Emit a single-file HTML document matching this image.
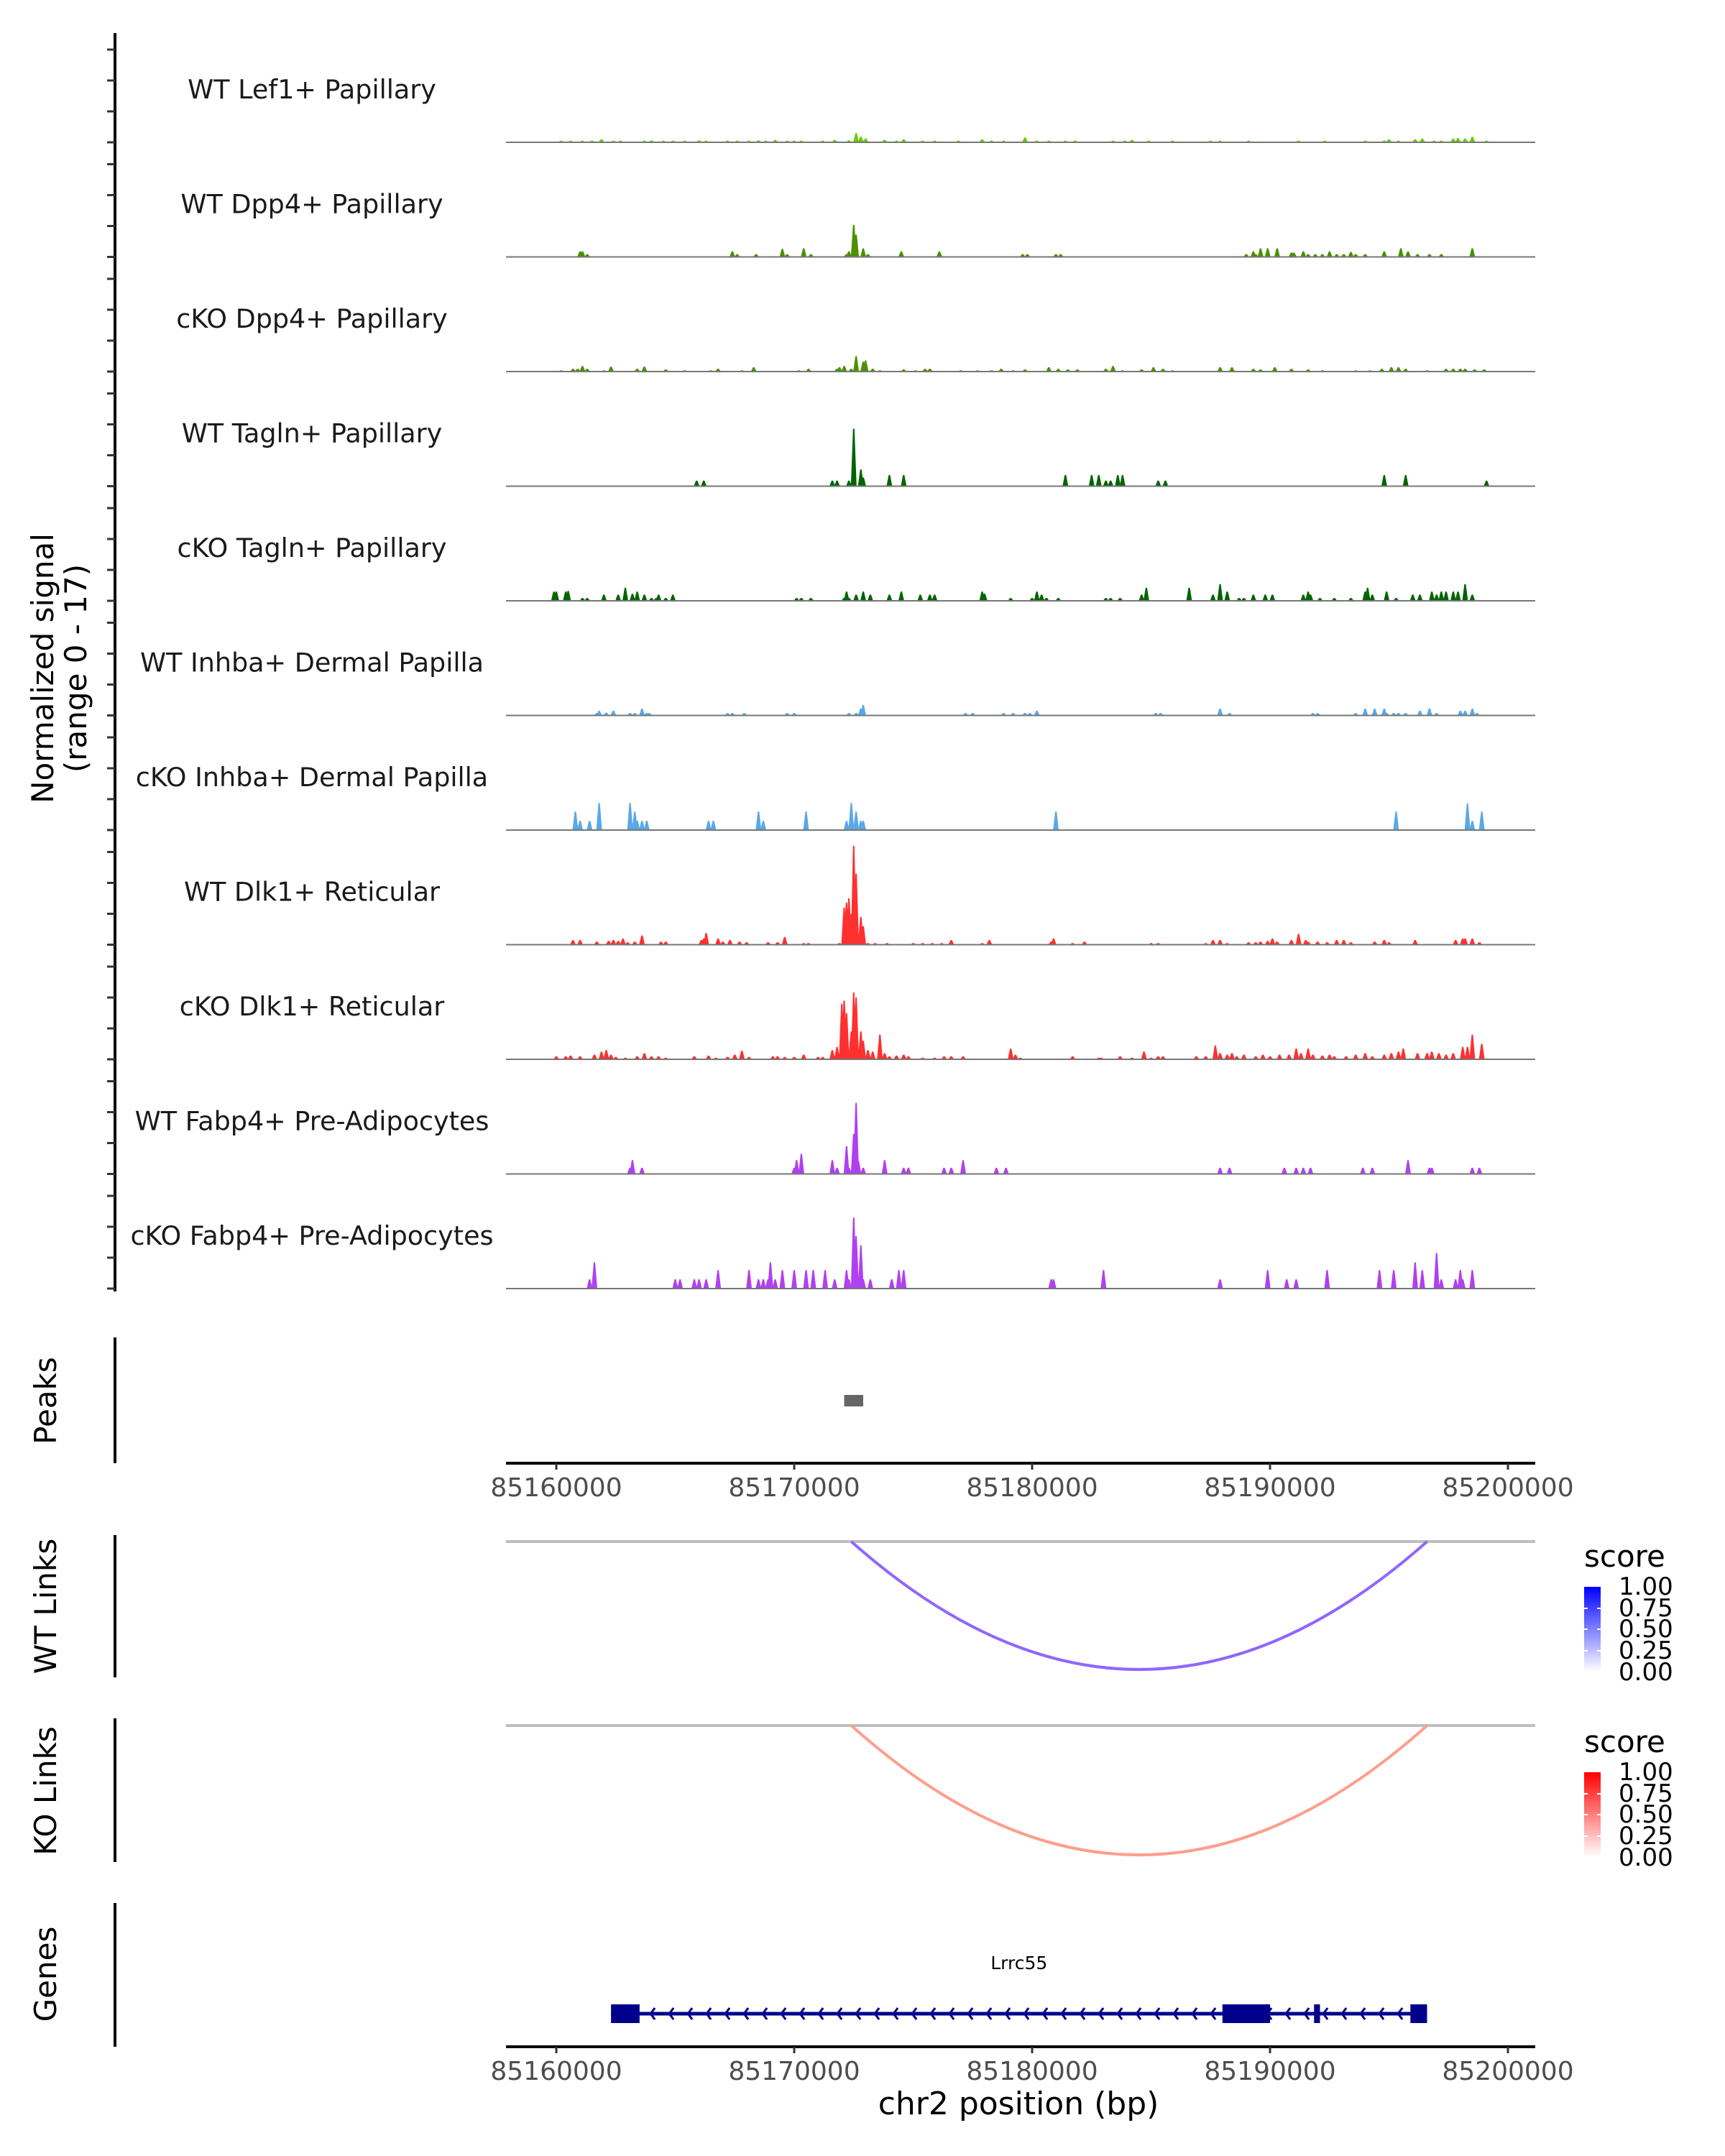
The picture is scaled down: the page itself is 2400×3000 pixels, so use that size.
<!DOCTYPE html>
<html><head><meta charset="utf-8"><style>
html,body{margin:0;padding:0;background:#fff;}
svg{display:block;font-family:"DejaVu Sans","Liberation Sans",sans-serif;}
</style></head><body>
<svg id="fig" width="2400" height="3000" viewBox="0 0 2400 3000" xmlns="http://www.w3.org/2000/svg">
<rect x="0" y="0" width="2400" height="3000" fill="#fff"/>
<text transform="translate(82,930) rotate(-90)" text-anchor="middle" font-size="42" fill="#000"><tspan x="0" dy="-8">Normalized signal</tspan><tspan x="0" dy="46">(range 0 - 17)</tspan></text>
<text transform="translate(78,1949) rotate(-90)" text-anchor="middle" font-size="42">Peaks</text>
<text transform="translate(78,2235) rotate(-90)" text-anchor="middle" font-size="42">WT Links</text>
<text transform="translate(78,2492) rotate(-90)" text-anchor="middle" font-size="42">KO Links</text>
<text transform="translate(78,2747) rotate(-90)" text-anchor="middle" font-size="42">Genes</text>
<line x1="160" y1="46" x2="160" y2="1797" stroke="#000" stroke-width="4"/>
<line x1="160" y1="1861" x2="160" y2="2036" stroke="#000" stroke-width="4"/>
<line x1="160" y1="2136" x2="160" y2="2334" stroke="#000" stroke-width="4"/>
<line x1="160" y1="2391" x2="160" y2="2591" stroke="#000" stroke-width="4"/>
<line x1="160" y1="2648" x2="160" y2="2848" stroke="#000" stroke-width="4"/>
<g id="tracks"></g>
<g id="bottom"></g>
<defs>
<linearGradient id="gblue" x1="0" y1="0" x2="0" y2="1"><stop offset="0" stop-color="#0000ff"/><stop offset="1" stop-color="#ffffff"/></linearGradient>
<linearGradient id="gred" x1="0" y1="0" x2="0" y2="1"><stop offset="0" stop-color="#ff0000"/><stop offset="1" stop-color="#ffffff"/></linearGradient>
</defs>
<g>
<text x="2204" y="2180" font-size="42">score</text>
<rect x="2204" y="2208" width="23" height="118" fill="url(#gblue)"/>
<g stroke="#fff" stroke-width="2"><line x1="2204" y1="2238" x2="2209" y2="2238"/><line x1="2222" y1="2238" x2="2227" y2="2238"/><line x1="2204" y1="2267" x2="2209" y2="2267"/><line x1="2222" y1="2267" x2="2227" y2="2267"/><line x1="2204" y1="2297" x2="2209" y2="2297"/><line x1="2222" y1="2297" x2="2227" y2="2297"/></g>
<g font-size="34" dominant-baseline="central"><text x="2252" y="2208">1.00</text><text x="2252" y="2238">0.75</text><text x="2252" y="2267">0.50</text><text x="2252" y="2297">0.25</text><text x="2252" y="2327">0.00</text></g>
</g>
<g>
<text x="2204" y="2438" font-size="42">score</text>
<rect x="2204" y="2466" width="23" height="118" fill="url(#gred)"/>
<g stroke="#fff" stroke-width="2"><line x1="2204" y1="2496" x2="2209" y2="2496"/><line x1="2222" y1="2496" x2="2227" y2="2496"/><line x1="2204" y1="2525" x2="2209" y2="2525"/><line x1="2222" y1="2525" x2="2227" y2="2525"/><line x1="2204" y1="2555" x2="2209" y2="2555"/><line x1="2222" y1="2555" x2="2227" y2="2555"/></g>
<g font-size="34" dominant-baseline="central"><text x="2252" y="2466">1.00</text><text x="2252" y="2496">0.75</text><text x="2252" y="2525">0.50</text><text x="2252" y="2555">0.25</text><text x="2252" y="2585">0.00</text></g>
</g>
<text x="1417" y="2942" text-anchor="middle" font-size="44">chr2 position (bp)</text>
</svg>
<script>
// positions in kb offset from 85160000, values in normalized signal units
const trackNames=["WT Lef1+ Papillary","WT Dpp4+ Papillary","cKO Dpp4+ Papillary","WT Tagln+ Papillary","cKO Tagln+ Papillary","WT Inhba+ Dermal Papilla","cKO Inhba+ Dermal Papilla","WT Dlk1+ Reticular","cKO Dlk1+ Reticular","WT Fabp4+ Pre-Adipocytes","cKO Fabp4+ Pre-Adipocytes"];
const trackColors=["#66cc00","#4a9000","#4a9000","#006400","#006400","#5aa8e8","#5aa8e8","#ff3030","#ff3030","#b040f0","#b040f0"];
const lef1Pos=[0.2,0.6,1.1,1.5,1.9,2.4,2.7,3.7,4.0,4.5,4.9,5.4,6.0,6.3,7.2,7.6,8.1,8.5,8.8,9.2,9.7,10.0,10.3,11.2,11.7,12.3,12.6,12.8,13.0,13.8,14.3,14.6,15.4,15.9,16.9,17.9,18.3,18.8,19.7,20.2,20.7,21.4,21.8,23.4,23.9,24.2,24.9,25.9,27.5,27.9,29.1,31.2,32.3,34.0,34.8,35.0,35.4,36.1,36.4,36.9,37.2,37.7,37.9,38.2,38.5,39.1];
const lef1Val=[0.25,0.25,0.25,0.25,0.5,0.25,0.25,0.25,0.3,0.25,0.25,0.25,0.3,0.25,0.25,0.25,0.25,0.3,0.25,0.4,0.25,0.25,0.25,0.25,0.4,0.3,1.5,0.9,0.6,0.4,0.25,0.5,0.25,0.25,0.25,0.5,0.25,0.25,0.8,0.25,0.25,0.25,0.25,0.25,0.25,0.4,0.25,0.25,0.25,0.25,0.25,0.25,0.25,0.25,0.25,0.5,0.25,0.5,0.6,0.25,0.25,0.6,0.7,0.6,0.9,0.25];
const dpp4WtPos=[1.0,1.1,1.3,7.4,7.6,8.4,9.5,9.7,10.4,10.7,12.2,12.3,12.5,12.6,12.9,13.1,14.5,16.1,19.6,19.8,21.0,21.2,29.0,29.3,29.4,29.6,29.9,30.3,30.9,31.0,31.4,31.6,31.9,32.2,32.5,32.8,33.1,33.4,33.6,34.0,34.8,35.5,35.8,36.2,36.7,37.2,38.5];
const dpp4WtVal=[0.9,0.9,0.45,0.9,0.45,0.45,1.3,0.45,1.4,0.45,0.45,0.9,5.2,3.6,1.4,0.45,0.9,0.9,0.45,0.45,0.45,0.45,0.45,0.9,0.45,1.4,1.4,1.4,0.7,0.7,0.9,0.45,0.45,0.45,0.9,0.45,0.45,0.8,0.45,0.45,0.9,1.4,0.9,0.45,0.45,0.45,1.4];
const dpp4KoPos=[0.2,0.7,0.9,1.1,1.3,2.0,2.3,3.4,3.7,4.6,5.4,6.5,6.8,7.8,8.3,10.2,10.6,11.8,11.9,12.1,12.4,12.6,12.9,13.0,13.3,13.6,14.6,15.1,15.5,15.7,17.0,17.7,18.3,18.7,19.2,19.7,20.7,21.1,21.5,21.9,23.1,23.4,23.8,24.6,25.1,25.5,25.9,27.9,28.4,29.3,29.6,30.2,30.9,31.6,32.2,33.6,34.2,34.7,35.1,35.4,35.7,36.6,37.4,37.7,38.0,38.2,38.6,39.0];
const dpp4KoVal=[0.2,0.45,0.45,0.9,0.45,0.2,0.8,0.45,0.8,0.35,0.2,0.2,0.45,0.2,0.7,0.2,0.45,0.45,0.7,0.9,0.45,2.5,1.6,1.8,0.45,0.2,0.35,0.2,0.45,0.45,0.2,0.2,0.2,0.45,0.2,0.35,0.7,0.45,0.35,0.35,0.45,0.9,0.2,0.35,0.7,0.45,0.2,0.7,0.7,0.45,0.35,0.7,0.45,0.35,0.2,0.2,0.2,0.45,0.7,0.7,0.45,0.2,0.45,0.45,0.45,0.45,0.35,0.35];
const taglnWtPos=[5.9,6.2,11.6,11.8,12.3,12.5,12.8,12.9,14.0,14.6,21.4,22.5,22.8,23.1,23.3,23.6,23.8,25.3,25.6,34.8,35.7,39.1];
const taglnWtVal=[0.9,0.9,0.9,0.9,0.9,9.3,2.7,1.4,1.8,1.8,1.8,1.8,1.8,0.9,0.9,1.8,1.8,0.9,0.9,1.8,1.8,0.9];
const taglnKoPos=[-0.1,0.0,0.4,0.5,1.1,1.3,2.0,2.6,2.9,3.2,3.4,3.7,4.0,4.2,4.3,4.6,4.9,10.1,10.3,10.7,12.1,12.2,12.3,12.6,12.9,13.2,14.0,14.5,15.3,15.7,15.9,17.9,18.0,19.1,20.0,20.2,20.4,20.6,21.1,23.1,23.3,23.7,24.6,24.8,26.6,27.6,27.9,28.2,28.7,28.9,29.3,29.8,30.1,31.4,31.6,31.7,32.1,32.7,33.4,34.0,34.1,34.3,34.9,35.3,36.0,36.3,36.8,37.0,37.2,37.4,37.7,37.9,38.2,38.5];
const taglnKoVal=[1.5,1.5,1.5,1.6,0.45,0.45,1.0,1.0,2.1,1.15,1.5,1.0,0.45,0.45,1.0,0.45,1.0,0.45,0.45,0.45,0.45,1.5,0.45,1.0,1.5,1.0,1.0,1.5,1.0,1.0,1.0,1.5,1.15,0.45,0.45,1.5,1.0,0.45,0.45,0.45,0.45,0.45,1.0,2.1,2.1,1.0,2.7,1.5,0.45,0.45,1.0,1.0,1.0,1.0,1.5,1.0,0.45,0.45,0.45,1.5,2.1,1.0,1.5,0.45,1.0,1.0,1.5,1.0,1.5,1.5,1.5,1.5,2.7,1.0];
const inhbaWtPos=[1.7,1.8,2.1,2.4,3.1,3.3,3.6,3.8,3.9,7.2,7.4,7.9,9.7,10.0,12.3,12.6,12.8,12.9,17.2,17.5,18.8,19.2,19.7,19.9,20.2,25.2,25.4,27.9,28.3,31.8,32.0,33.6,34.0,34.4,34.8,34.9,35.2,35.4,35.7,36.3,36.7,37.0,38.0,38.2,38.5,38.7];
const inhbaWtVal=[0.4,0.75,0.45,0.75,0.4,0.4,1.1,0.4,0.4,0.4,0.4,0.4,0.4,0.4,0.4,0.4,1.1,1.7,0.4,0.4,0.4,0.4,0.4,0.4,0.75,0.4,0.4,1.1,0.4,0.4,0.4,0.4,1.1,1.1,1.1,0.4,0.4,0.4,0.4,0.75,1.1,0.4,0.75,0.75,1.1,0.4];
const inhbaKoPos=[0.8,1.0,1.4,1.8,3.1,3.3,3.4,3.6,3.8,6.4,6.6,8.5,8.7,10.5,12.2,12.4,12.6,12.8,12.9,21.0,35.3,38.3,38.5,38.9];
const inhbaKoVal=[3.0,1.5,1.5,4.4,4.4,3.0,1.5,1.5,1.5,1.5,1.5,3.0,1.5,3.0,1.5,4.4,3.0,1.5,1.5,3.0,3.0,4.3,1.5,3.0];
const dlk1WtPos=[0.7,1.0,1.7,2.2,2.4,2.6,2.8,3.0,3.3,3.6,4.4,4.6,6.1,6.2,6.3,6.8,7.0,7.3,7.7,8.0,8.9,9.3,9.6,10.4,10.6,11.9,12.1,12.2,12.3,12.4,12.5,12.6,12.8,12.9,13.1,13.4,13.9,15.0,15.4,15.8,16.2,16.6,17.9,18.2,20.8,20.9,21.7,22.2,25.0,25.3,27.3,27.6,27.9,28.2,29.1,29.4,29.6,29.9,30.1,30.3,30.9,31.2,31.5,31.6,32.0,32.4,32.8,33.1,33.4,34.4,34.8,35.0,36.1,37.8,38.1,38.2,38.5,38.8];
const dlk1WtVal=[0.75,0.75,0.5,0.6,0.75,0.6,1.0,0.4,0.5,1.5,0.5,0.5,0.75,1.0,1.9,1.0,0.5,0.75,0.5,0.4,0.4,0.4,1.25,0.25,0.25,0.25,6.0,6.8,7.5,5.0,16,11.5,4.5,3.0,0.25,0.25,0.25,0.25,0.25,0.25,0.25,0.75,0.25,0.75,0.5,1.0,0.25,0.5,0.25,0.25,0.25,0.75,0.75,0.25,0.4,0.4,0.5,0.6,1.0,0.5,0.75,1.75,0.75,0.5,0.5,0.4,0.75,0.75,0.4,0.5,0.75,0.4,0.75,0.75,1.0,1.0,1.0,0.4];
const dlk1KoPos=[0.0,0.4,0.6,1.0,1.6,1.9,2.1,2.3,2.5,2.9,3.4,3.7,4.0,4.3,4.6,5.8,6.4,6.7,7.2,7.5,7.8,8.1,9.1,9.3,9.6,10.0,10.4,11.0,11.2,11.6,11.8,12.0,12.1,12.2,12.4,12.5,12.6,12.8,12.9,13.1,13.3,13.6,13.8,14.0,14.3,14.6,14.8,15.4,15.9,16.3,16.6,17.1,19.1,19.3,19.5,21.7,22.8,22.9,23.7,24.2,24.7,25.0,25.3,25.5,26.9,27.3,27.7,27.9,28.2,28.4,28.6,28.9,29.4,29.7,30.0,30.4,30.8,31.1,31.3,31.6,31.8,32.2,32.5,32.7,33.2,33.6,34.0,34.3,34.8,35.1,35.4,35.6,36.2,36.6,36.8,37.1,37.4,37.7,38.1,38.3,38.5,38.9];
const dlk1KoVal=[0.5,0.5,0.6,0.5,0.75,1.25,1.5,0.75,0.4,0.25,0.5,1.0,0.5,0.5,0.25,0.5,0.6,0.25,0.4,0.75,1.4,0.4,0.5,0.5,0.4,0.4,0.75,0.4,0.4,1.5,2.0,9.0,9.5,7.5,4.5,10.8,10.0,4.5,3.0,1.5,1.25,4.0,1.0,0.5,0.6,0.75,0.5,0.25,0.25,0.5,0.5,0.5,1.75,0.75,0.25,0.5,0.25,0.25,0.5,0.25,1.25,0.25,0.5,0.5,0.5,0.5,2.25,1.0,0.75,1.0,0.5,0.75,0.5,0.75,0.5,0.75,0.75,1.75,1.0,1.75,0.75,0.6,0.75,0.5,0.5,0.75,1.0,0.5,0.75,1.0,1.25,1.75,1.0,1.0,1.25,1.0,0.75,1.0,2.0,2.0,4.0,2.5];
const fabp4WtPos=[3.1,3.2,3.6,10.0,10.1,10.3,11.6,11.8,12.2,12.3,12.5,12.6,12.7,12.9,13.8,14.6,14.8,16.3,16.6,17.1,18.5,18.9,27.9,28.3,30.6,31.1,31.4,31.7,33.9,34.3,35.8,36.7,36.8,38.5,38.8];
const fabp4WtVal=[1.0,2.25,1.0,1.0,2.25,3.25,2.25,1.0,4.5,1.0,6.5,11.5,2.0,1.0,2.25,1.0,1.0,1.0,1.0,2.25,1.0,1.0,1.0,1.0,1.0,1.0,1.0,1.0,1.0,1.0,2.25,1.0,1.0,1.0,1.0];
const fabp4KoPos=[1.4,1.6,5.0,5.2,5.8,6.0,6.3,6.8,8.1,8.5,8.7,8.9,9.0,9.2,9.5,10.0,10.5,10.8,11.3,11.7,12.2,12.3,12.5,12.6,12.8,12.9,13.2,14.1,14.4,14.6,20.8,20.9,23.0,27.9,29.9,30.7,31.1,32.4,34.6,35.2,36.1,36.4,37.0,37.2,37.8,38.0,38.1,38.5];
const fabp4KoVal=[1.5,4.25,1.5,1.5,1.5,1.5,1.5,3.0,3.0,1.5,1.5,1.5,4.25,1.5,3.0,3.0,3.0,3.0,3.0,1.5,3.0,1.5,11.5,8.5,7.0,1.5,1.5,1.5,3.0,3.0,1.5,1.5,3.0,1.5,3.0,1.5,1.5,3.0,3.0,3.0,4.25,3.0,5.75,1.5,1.5,3.0,1.5,3.0];
const trackPos=[lef1Pos,dpp4WtPos,dpp4KoPos,taglnWtPos,taglnKoPos,inhbaWtPos,inhbaKoPos,dlk1WtPos,dlk1KoPos,fabp4WtPos,fabp4KoPos];
const trackVal=[lef1Val,dpp4WtVal,dpp4KoVal,taglnWtVal,taglnKoVal,inhbaWtVal,inhbaKoVal,dlk1WtVal,dlk1KoVal,fabp4WtVal,fabp4KoVal];
const peakStartKb=[12.1];
const peakEndKb=[12.9];
const linkStartKb=[12.4];
const linkEndKb=[36.6];
const wtLinkScore=[0.6];
const koLinkScore=[0.45];
const exonStartKb=[2.3,28.0,31.85,35.9];
const exonEndKb=[3.5,30.0,32.1,36.6];
const geneStartKb=[2.3];
const geneEndKb=[36.6];
const geneNames=["Lrrc55"];
const xTickBp=[85160000,85170000,85180000,85190000,85200000];
const signalTicks=[0,5,10,15];

const NS="http://www.w3.org/2000/svg";
const X0=774, PXKB=33.1, LEFT=704, RIGHT=2136;
function xKb(k){return X0+k*PXKB;}
function xBp(b){return xKb((b-85160000)/1000);}
function base(i){return 198+i*159.5;}
function yVal(i,v){return base(i)-v*8.6;}
function mk(tag,attrs,parent){const e=document.createElementNS(NS,tag);for(const k in attrs)e.setAttribute(k,attrs[k]);parent.appendChild(e);return e;}
const g=document.getElementById('tracks');
for(let i=0;i<trackNames.length;i++){
  const tg=mk('g',{},g);
  
  
  for(const t of signalTicks){
    const tl=mk('line',{x1:149,x2:160,y1:yVal(i,t),y2:yVal(i,t),stroke:'#333','stroke-width':3},tg);
    
    
  }
  const lab=mk('text',{x:434,y:base(i)-61,'text-anchor':'middle','font-size':36.5,fill:'#1a1a1a'},tg);
  lab.textContent=trackNames[i];
  
  
  let d='';
  const P=trackPos[i],V=trackVal[i],b=base(i);
  for(let j=0;j<P.length;j++){
    const x=xKb(P[j]),y=yVal(i,V[j]);
    d+='M'+(x-4).toFixed(1)+','+b+'L'+(x-1).toFixed(1)+','+y.toFixed(1)+'L'+(x+1).toFixed(1)+','+y.toFixed(1)+'L'+(x+4).toFixed(1)+','+b+'Z';
  }
  const p=mk('path',{d:d,fill:trackColors[i]},tg);
  
  
  const bl=mk('line',{x1:LEFT,x2:RIGHT,y1:b,y2:b,stroke:'#777','stroke-width':2},tg);
  
  
}
const bg=document.getElementById('bottom');
for(let j=0;j<peakStartKb.length;j++){
  const r=mk('rect',{x:xKb(peakStartKb[j]),y:1941,width:xKb(peakEndKb[j])-xKb(peakStartKb[j]),height:16,fill:'#666'},bg);
  
  
}
function axis(y){
  const ax=mk('g',{},bg);
  
  
  mk('line',{x1:LEFT,x2:RIGHT,y1:y,y2:y,stroke:'#000','stroke-width':4},ax);
  for(const t of xTickBp){
    const x=xBp(t);
    mk('line',{x1:x,x2:x,y1:y,y2:y+9,stroke:'#333','stroke-width':3},ax);
    const tx=mk('text',{x:x,y:y+46,'text-anchor':'middle','font-size':36,fill:'#4d4d4d'},ax);
    tx.textContent=String(t);
    
    
  }
}
axis(2036);axis(2848);
function scoreColor(s,r,gg,b){const m=v=>Math.round(255+(v-255)*s);return 'rgb('+m(r)+','+m(gg)+','+m(b)+')';}
function links(y,depth,scores,rgb,name){
  const lg=mk('g',{},bg);
  
  
  mk('line',{x1:LEFT,x2:RIGHT,y1:y,y2:y,stroke:'#bebebe','stroke-width':4},lg);
  for(let j=0;j<linkStartKb.length;j++){
    const a=xKb(linkStartKb[j]),c=xKb(linkEndKb[j]),m=(a+c)/2;
    const p=mk('path',{d:'M'+a+','+y+' Q'+m+','+(y+2*depth)+' '+c+','+y,fill:'none',stroke:scoreColor(scores[j],rgb[0],rgb[1],rgb[2]),'stroke-width':4},lg);
    
    
  }
}
links(2145,178,wtLinkScore,[70,0,255],'wt-links-track');
links(2401,180,koLinkScore,[255,40,0],'ko-links-track');
const gn=mk('g',{},bg);


for(let j=0;j<geneStartKb.length;j++){
  const a=xKb(geneStartKb[j]),c=xKb(geneEndKb[j]);
  mk('line',{x1:a,x2:c,y1:2802,y2:2802,stroke:'#00008b','stroke-width':5},gn);
  let ch='';
  for(let x=a+30;x<c-10;x+=26){ch+='M'+(x+5)+',2794 L'+(x-1)+',2802 L'+(x+5)+',2810 ';}
  mk('path',{d:ch,fill:'none',stroke:'#00008b','stroke-width':3},gn);
  const t=mk('text',{x:(a+c)/2,y:2740,'text-anchor':'middle','font-size':25,fill:'#000'},gn);
  t.textContent=geneNames[j];
  
  
}
for(let j=0;j<exonStartKb.length;j++){
  const r=mk('rect',{x:xKb(exonStartKb[j]),y:2789,width:Math.max(4,xKb(exonEndKb[j])-xKb(exonStartKb[j])),height:26,fill:'#00008b'},gn);
  
  
}
</script>
</body></html>
